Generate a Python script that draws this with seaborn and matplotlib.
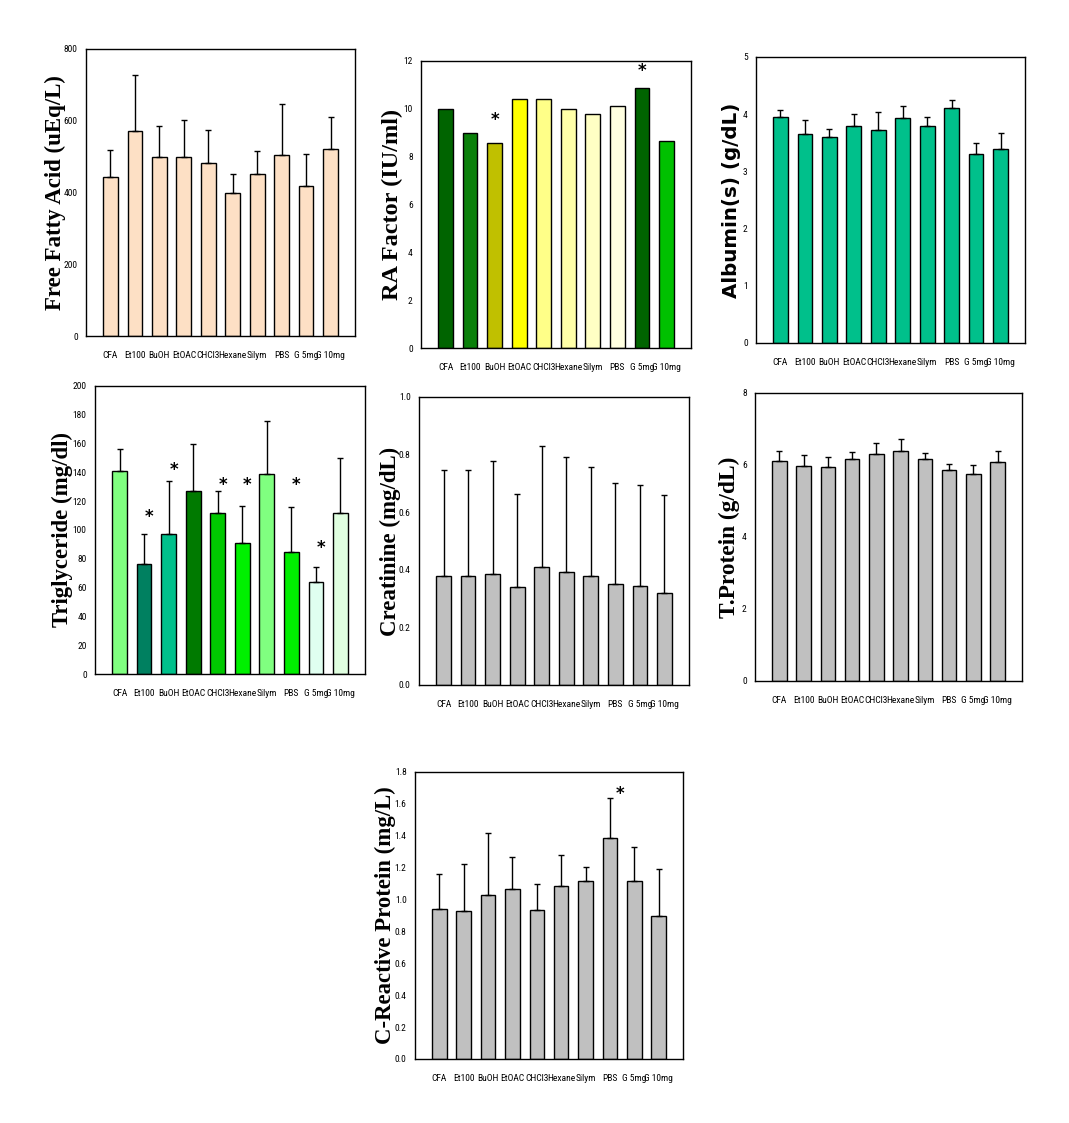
import matplotlib
matplotlib.use("Agg")
import matplotlib.pyplot as plt
import seaborn as sns
import pandas as pd
from matplotlib import font_manager
from matplotlib.font_manager import FontProperties

# ---------------- data ----------------
groups = ["CFA", "Et100", "BuOH", "EtOAC", "CHCl3", "Hexane", "Silym", "PBS", "G 5mg", "G 10mg"]

ffa_mean = [442, 571, 498, 498, 481, 400, 451, 504, 418, 521]
ffa_sd = [76, 156, 86, 103, 92, 51, 64, 142, 88, 89]

ra_mean = [10.0, 9.0, 8.59, 10.41, 10.41, 10.0, 9.8, 10.13, 10.87, 8.67]
ra_star_groups = ["BuOH", "G 5mg"]
ra_star_y = [9.55, 11.6]

alb_mean = [3.95, 3.65, 3.60, 3.79, 3.72, 3.93, 3.79, 4.11, 3.30, 3.39]
alb_sd = [0.12, 0.25, 0.14, 0.21, 0.32, 0.21, 0.16, 0.14, 0.19, 0.28]

tg_mean = [141, 76.3, 97, 127, 111.7, 91, 138.7, 84.5, 63.7, 111.7]
tg_sd = [15, 20.7, 37, 32.5, 15.3, 26, 36.8, 31.5, 10.4, 38]
tg_star_groups = ["Et100", "BuOH", "CHCl3", "Hexane", "PBS", "G 5mg"]
tg_star_y = [109, 142, 131, 131, 131, 87.5]

cre_mean = [0.378, 0.378, 0.385, 0.340, 0.410, 0.392, 0.378, 0.351, 0.344, 0.319]
cre_sd = [0.370, 0.370, 0.394, 0.323, 0.420, 0.400, 0.378, 0.350, 0.350, 0.341]

tp_mean = [6.12, 5.98, 5.94, 6.17, 6.31, 6.39, 6.17, 5.87, 5.75, 6.08]
tp_sd = [0.28, 0.30, 0.28, 0.19, 0.30, 0.33, 0.16, 0.16, 0.25, 0.31]

crp_mean = [0.939, 0.930, 1.030, 1.064, 0.932, 1.087, 1.118, 1.385, 1.118, 0.900]
crp_sd = [0.223, 0.294, 0.390, 0.204, 0.168, 0.193, 0.088, 0.255, 0.212, 0.290]
crp_star_groups = ["PBS"]
crp_star_y = [1.66]

# colours
ffa_colors = ["#fde0c5"] * 10
ra_colors = ["#006400", "#0a800a", "#c0c000", "#ffff00", "#ffff88", "#ffffa8",
             "#ffffc4", "#ffffe0", "#006400", "#00c000"]
alb_colors = ["#00c08b"] * 10
tg_colors = ["#80ff80", "#008060", "#00c08b", "#007a00", "#00c800", "#00f000",
             "#80ff80", "#00ee00", "#e0fff0", "#e0ffe0"]
grey_colors = ["#c0c0c0"] * 10

# ---------------- style ----------------
sns.set_theme(style="white")
plt.rcParams["font.family"] = ["Liberation Sans", "DejaVu Sans"]

# look for a narrow sans font for the tick labels (Arial Narrow look)
narrow_file = None
pref = ["Liberation Sans Narrow", "Roboto Condensed", "Open Sans Condensed", "DejaVu Sans"]
for name in pref:
    for f in font_manager.fontManager.ttflist:
        if f.name != name or f.style != "normal":
            continue
        if f.weight not in (400, "normal", "regular", "book"):
            continue
        if name == "DejaVu Sans" and str(f.stretch) not in ("condensed", "semi-condensed"):
            continue
        narrow_file = f.fname
        break
    if narrow_file:
        break

if narrow_file:
    tick_fp = FontProperties(fname=narrow_file, size=6.8)
else:
    tick_fp = FontProperties(family=["Liberation Sans", "DejaVu Sans"], size=5.7)

W, H = 1069, 1123
fig = plt.figure(figsize=(W / 100, H / 100), dpi=100)


def make_axes(left, top, right, bottom):
    return fig.add_axes([left / W, 1 - bottom / H, (right - left) / W, (bottom - top) / H])


def panel(ax, means, colors, ymax, ystep, ylabel, sd=None, label_x=-0.11,
          stars=None, star_dx=0.0, fmt="{:.0f}", serif=True, lab_size=15):
    df = pd.DataFrame({"group": groups, "value": means})
    sns.barplot(data=df, x="group", y="value", hue="group", palette=colors,
                legend=False, ax=ax, width=0.6, edgecolor="black", linewidth=1.0,
                saturation=1)
    if sd is not None:
        ax.errorbar(range(len(groups)), means, yerr=[[0] * len(sd), sd], fmt="none",
                    ecolor="black", elinewidth=1.0, capsize=2.4, capthick=1.0, zorder=3)
    if stars is not None:
        sg, sy = stars
        for g, y in zip(sg, sy):
            ax.text(groups.index(g) + star_dx, y, "*", ha="center", va="center",
                    fontsize=12, fontweight="bold", color="black", family=["DejaVu Sans"])
    ax.set_xlim(-1, len(groups))
    ax.set_ylim(0, ymax)
    ticks = [i * ystep for i in range(int(round(ymax / ystep)) + 1)]
    ax.set_yticks(ticks)
    ax.set_yticklabels([fmt.format(t) for t in ticks])
    ax.set_xlabel("")
    for s in ax.spines.values():
        s.set_visible(True)
        s.set_color("black")
        s.set_linewidth(1.0)
    ax.tick_params(axis="both", direction="out", length=4, width=0.8, color="black",
                   labelcolor="black", pad=2)
    ax.tick_params(axis="x", pad=7)
    for lbl in ax.get_xticklabels() + ax.get_yticklabels():
        lbl.set_fontproperties(tick_fp)
    fam = ["Liberation Serif", "DejaVu Serif"] if serif else ["DejaVu Sans"]
    ax.set_ylabel(ylabel, fontsize=lab_size, fontweight="bold", family=fam,
                  color="black", va="center", ha="center")
    ax.yaxis.set_label_coords(label_x, 0.5)
    ax.set_facecolor("white")


ax1 = make_axes(86, 49, 355, 336)
panel(ax1, ffa_mean, ffa_colors, 800, 200, "Free Fatty Acid (uEq/L)", sd=ffa_sd,
      label_x=-0.115, lab_size=16.5)

ax2 = make_axes(421, 61, 691, 348)
panel(ax2, ra_mean, ra_colors, 12, 2, "RA Factor (IU/ml)", label_x=-0.107,
      stars=(ra_star_groups, ra_star_y), lab_size=17.5)

ax3 = make_axes(756, 57, 1025, 343)
panel(ax3, alb_mean, alb_colors, 5, 1, "Albumin(s) (g/dL)", sd=alb_sd, label_x=-0.09,
      serif=False, lab_size=14.3)

ax4 = make_axes(95, 386, 365, 674)
panel(ax4, tg_mean, tg_colors, 200, 20, "Triglyceride (mg/dl)", sd=tg_sd, label_x=-0.122,
      stars=(tg_star_groups, tg_star_y), star_dx=0.2, lab_size=16.4)

ax5 = make_axes(419, 397, 689, 685)
panel(ax5, cre_mean, grey_colors, 1.0, 0.2, "Creatinine (mg/dL)", sd=cre_sd, label_x=-0.107,
      fmt="{:.1f}", lab_size=16.5)

ax6 = make_axes(755, 393, 1022, 681)
panel(ax6, tp_mean, grey_colors, 8, 2, "T.Protein (g/dL)", sd=tp_sd, label_x=-0.097,
      lab_size=16.8)

ax7 = make_axes(415, 772, 683, 1059)
panel(ax7, crp_mean, grey_colors, 1.8, 0.2, "C-Reactive Protein (mg/L)", sd=crp_sd,
      label_x=-0.112, stars=(crp_star_groups, crp_star_y), star_dx=0.4, fmt="{:.1f}",
      lab_size=16.4)

fig.savefig("out.png", dpi=100, facecolor="white")
